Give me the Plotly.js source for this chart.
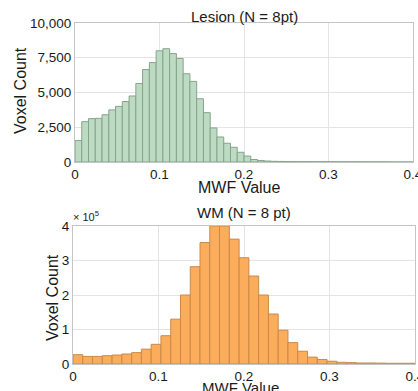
<!DOCTYPE html>
<html>
<head>
<meta charset="utf-8">
<script src="https://cdn.plot.ly/plotly-3.0.1.min.js"></script>
<style>html,body{margin:0;padding:0;background:#fff}#chart{width:418px;height:391px}</style>
</head>
<body>
<div id="chart"></div>
<script>
// Lesion histogram (bin width 0.008, 0 to 0.4)
const lesionBinStart = 0;
const lesionBinWidth = 0.008;
const lesionCounts = [1550, 2900, 3120, 3140, 3400, 3750, 4000, 4350, 4750, 5650,
  6650, 7150, 8000, 8150, 7800, 7450, 6350, 5800, 4550, 3550,
  2450, 1800, 1350, 1060, 700, 430, 180, 110, 70, 50,
  40, 35, 30, 25, 25, 20, 20, 20, 20, 15,
  15, 15, 15, 10, 10, 10, 5, 0, 0, 0];

// WM histogram (35 bins over 0 to 0.4), values in units of 1e5
const wmBinStart = 0;
const wmBinWidth = 0.4 / 35;
const wmCounts = [0.27, 0.22, 0.22, 0.24, 0.26, 0.29, 0.33, 0.43, 0.57, 0.82,
  1.30, 2.00, 2.82, 3.52, 4.00, 4.00, 3.62, 3.08, 2.55, 2.00,
  1.45, 0.98, 0.62, 0.37, 0.20, 0.13, 0.08, 0.05, 0.04, 0.03,
  0.03, 0.025, 0.02, 0.02, 0.02];

const xTicks = [0, 0.1, 0.2, 0.3, 0.4];
const xTickText = ['0', '0.1', '0.2', '0.3', '0.4'];
const lesionYTicks = [0, 2500, 5000, 7500, 10000];
const lesionYTickText = ['0', '2,500', '5,000', '7,500', '10,000'];
const wmYTicks = [0, 1, 2, 3, 4];
const wmYTickText = ['0', '1', '2', '3', '4'];

const W = 418, H = 391;
const px = v => v / W;
const py = v => (H - v) / H;

const fam = 'Liberation Sans, Arial, sans-serif';
const ink = '#1a1a1a';
const tickFont = {family: fam, size: 13.5, color: ink};

const traces = [
  {
    type: 'bar', x0: lesionBinStart + lesionBinWidth / 2, dx: lesionBinWidth, y: lesionCounts,
    xaxis: 'x', yaxis: 'y',
    marker: {color: '#bddbc3', line: {color: '#86a38b', width: 1}},
    hoverinfo: 'skip'
  },
  {
    type: 'bar', x0: wmBinStart + wmBinWidth / 2, dx: wmBinWidth, y: wmCounts,
    xaxis: 'x2', yaxis: 'y2',
    marker: {color: '#fcad5c', line: {color: '#c98a4a', width: 1}},
    hoverinfo: 'skip'
  }
];

const axisCommon = {
  showgrid: true, gridcolor: '#e4e4e4', gridwidth: 1,
  showline: true, linecolor: '#c4c4c4', linewidth: 1, mirror: true,
  zeroline: false, ticks: '', ticklen: 0, tickfont: tickFont, fixedrange: true,
  ticklabeloverflow: 'allow'
};

const layout = {
  width: W, height: H,
  margin: {l: 0, r: 0, t: 0, b: 0},
  paper_bgcolor: '#ffffff', plot_bgcolor: '#ffffff',
  showlegend: false, bargap: 0,
  font: tickFont,
  xaxis: Object.assign({}, axisCommon, {
    domain: [px(75), px(413)], range: [0, 0.4], anchor: 'y',
    tickvals: xTicks, ticktext: xTickText
  }),
  yaxis: Object.assign({}, axisCommon, {
    domain: [py(162), py(23)], range: [0, 10000], anchor: 'x',
    tickvals: lesionYTicks, ticktext: lesionYTickText
  }),
  xaxis2: Object.assign({}, axisCommon, {
    domain: [px(73), px(415)], range: [0, 0.4], anchor: 'y2',
    tickvals: xTicks, ticktext: xTickText
  }),
  yaxis2: Object.assign({}, axisCommon, {
    domain: [py(364), py(226)], range: [0, 4], anchor: 'x2',
    tickvals: wmYTicks, ticktext: wmYTickText
  }),
  annotations: [
    {text: 'Lesion (N = 8pt)', xref: 'paper', yref: 'paper', x: px(244), y: py(17),
     xanchor: 'center', yanchor: 'middle', showarrow: false,
     font: {family: fam, size: 15, color: ink}},
    {text: 'WM (N = 8 pt)', xref: 'paper', yref: 'paper', x: px(244), y: py(212),
     xanchor: 'center', yanchor: 'middle', showarrow: false,
     font: {family: fam, size: 15, color: ink}},
    {text: '× 10<sup>5</sup>', xref: 'paper', yref: 'paper', x: px(71), y: py(225),
     xanchor: 'left', yanchor: 'bottom', showarrow: false,
     font: {family: fam, size: 11, color: ink}},
    {text: 'MWF Value', xref: 'paper', yref: 'paper', x: px(239), y: py(188),
     xanchor: 'center', yanchor: 'middle', showarrow: false,
     font: {family: fam, size: 16, color: ink}},
    {text: 'MWF Value', xref: 'paper', yref: 'paper', x: px(241), y: py(377),
     xanchor: 'center', yanchor: 'top', showarrow: false,
     font: {family: fam, size: 15, color: ink}},
    {text: 'Voxel Count', xref: 'paper', yref: 'paper', x: px(20), y: py(91),
     xanchor: 'center', yanchor: 'middle', textangle: -90, showarrow: false,
     font: {family: fam, size: 16, color: ink}},
    {text: 'Voxel Count', xref: 'paper', yref: 'paper', x: px(52), y: py(298),
     xanchor: 'center', yanchor: 'middle', textangle: -90, showarrow: false,
     font: {family: fam, size: 16, color: ink}}
  ]
};

Plotly.newPlot('chart', traces, layout, {staticPlot: true, displayModeBar: false});
</script>
</body>
</html>
